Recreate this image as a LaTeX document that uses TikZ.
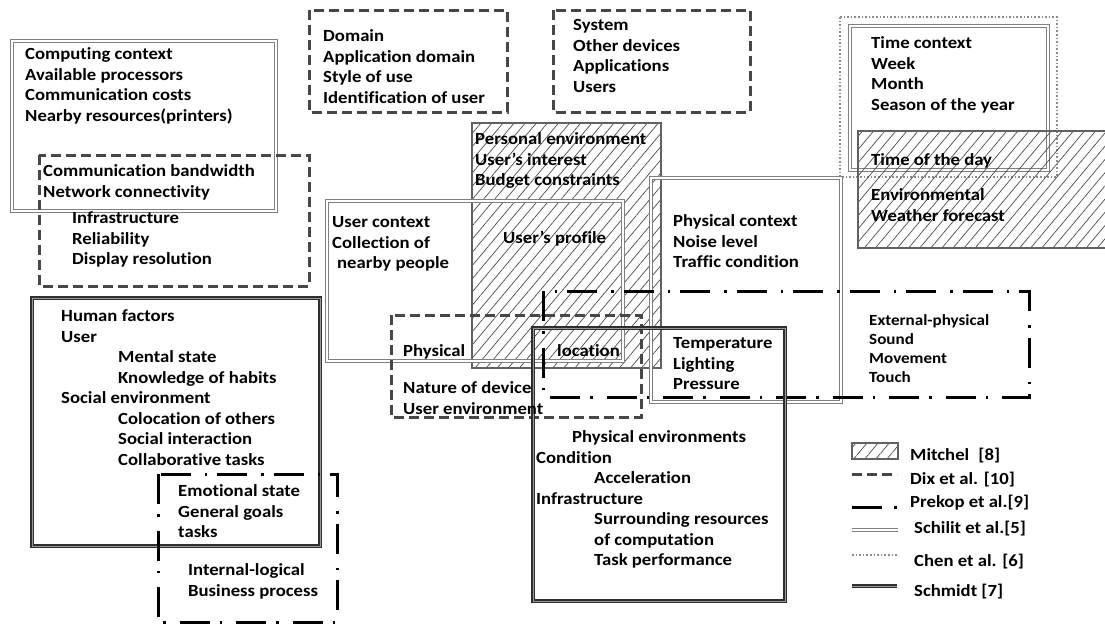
\documentclass[tikz,border=0pt]{standalone}
\usepackage{fontspec}
\setmainfont{Carlito}[FakeStretch=1.1,Ligatures=NoCommon]
\usetikzlibrary{patterns.meta}
\begin{document}
\begin{tikzpicture}[x=1pt,y=-1pt,
  schilit/.style={draw=black!50, line width=1pt, double=white, double distance=2pt},
  dix/.style={draw=black!72, line width=3pt, dash pattern=on 10pt off 5pt},
  prekop/.style={draw=black, line width=3pt, dash pattern=on 30pt off 10pt on 2.5pt off 14pt},
  chen/.style={draw=black!45, line width=2pt, dash pattern=on 1.6pt off 2pt},
  schmidt/.style={draw=black!82, line width=1.3pt, double=black!40, double distance=0.8pt},
  mitchel/.style={draw=black!62, line width=1.8pt, pattern={Lines[angle=50,distance=8.5pt,line width=0.7pt]}, pattern color=black!70},
  txt/.style={anchor=north west, inner sep=0pt, yshift=-3pt, align=left, font=\fontsize{17}{20.5}\selectfont\bfseries, execute at begin node=\strut},
  txts/.style={txt, font=\fontsize{15.5}{19}\selectfont\bfseries}]
\fill[white] (0,0) rectangle (1105,630);
\useasboundingbox (0,0) rectangle (1105,630);
\clip (0,0) rectangle (1105,630);

% boxes
\draw[schilit] (12,41) rectangle (276,211);
\draw[dix] (39,155) rectangle (309,286);
\draw[dix] (309,10) rectangle (507,112);
\draw[dix] (553,10) rectangle (750,112);
\draw[chen] (840,17) rectangle (1057,177);
\draw[schilit] (849.5,26) rectangle (1047.5,169.5);
\draw[mitchel] (858,131) rectangle (1115,248);
\draw[mitchel] (472,123) rectangle (661,368);
\draw[schilit] (327,201) rectangle (623,361);
\draw[schilit] (651,178) rectangle (841,402);
\draw[prekop] (543,291) rectangle (1029,397);
\draw[dix] (391,315) rectangle (641,417);
\draw[schmidt] (533,328) rectangle (785,601);
\draw[schmidt] (32,298) rectangle (320,546);
\draw[prekop] (158,474) rectangle (337,622);

% texts
\node[txt] (comp) at (25,44.5) {Computing context\\Available processors\\Communication costs\\Nearby resources(printers)};
\node[txt] (infra1) at (43,161.5) {Communication bandwidth\\Network connectivity};
\node[txt] (infra2) at (72,208.5) {Infrastructure\\Reliability\\Display resolution};
\node[txt] (dom) at (323,26.5) {Domain\\Application domain\\Style of use\\Identification of user};
\node[txt] (sys) at (573,16.5) {System\\Other devices\\Applications\\Users};
\node[txt] (time) at (871,33.5) {Time context\\Week\\Month\\Season of the year};
\node[txt] (tday) at (871,147.5) {Time of the day};
\node[txt] (env) at (871,185.5) {Environmental\\Weather forecast};
\node[txt] (pers) at (475,129.5) {Personal environment\\User’s interest\\Budget constraints};
\node[txt] (prof) at (503,225.5) {User’s profile};
\node[txt] (loc) at (557,338.5) {location};
\node[txt] (uctx) at (332,213.5) {User context\\Collection of\\\hspace*{5pt}nearby people};
\node[txt] (pctx) at (673,211.5) {Physical context\\Noise level\\Traffic condition};
\node[txts] (ext) at (869,311) {External-physical\\Sound\\Movement\\Touch};
\node[txt] (phys) at (403,338.5) {Physical};
\node[txt] (nat) at (403,378.5) {Nature of device\\User environment};
\node[txt] (temp) at (673,334.5) {Temperature\\Lighting\\Pressure};
\node[txt] (penv) at (536,427.5) {\hspace*{36pt}Physical environments\\Condition\\\hspace*{58pt}Acceleration\\Infrastructure\\\hspace*{58pt}Surrounding resources\\\hspace*{58pt}of computation\\\hspace*{58pt}Task performance};
\node[txt] (human) at (61,306.5) {Human factors\\User\\\hspace*{57pt}Mental state\\\hspace*{57pt}Knowledge of habits\\Social environment\\\hspace*{57pt}Colocation of others\\\hspace*{57pt}Social interaction\\\hspace*{57pt}Collaborative tasks};
\node[txt] (emo) at (178,481.5) {Emotional state\\General goals\\tasks};
\node[txt] (intl) at (188,560.5) {Internal-logical\\Business process};

% legend
\draw[mitchel] (852,443) rectangle (898,459);
\coordinate (l2a) at (852,474); \coordinate (l2b) at (897,474);
\draw[dix] (l2a) -- (l2b);
\coordinate (l3a) at (852,507); \coordinate (l3b) at (898,507);
\draw[prekop, dash pattern=on 30pt off 12pt on 2.5pt off 10pt] (l3a) -- (l3b);
\coordinate (l4a) at (852,530); \coordinate (l4b) at (898,530);
\draw[schilit] (l4a) -- (l4b);
\coordinate (l5a) at (852,555); \coordinate (l5b) at (898,555);
\draw[chen] (l5a) -- (l5b);
\coordinate (l6a) at (852,586); \coordinate (l6b) at (897,586);
\draw[schmidt] (l6a) -- (l6b);
\node[txt] (lg1) at (910,442.5) {Mitchel\hspace*{5pt} [8]};
\node[txt] (lg2) at (910,466.5) {Dix et al. [10]};
\node[txt] (lg3) at (910,489.5) {Prekop et al.[9]};
\node[txt] (lg4) at (914,515.5) {Schilit et al.[5]};
\node[txt] (lg5) at (914,548.5) {Chen et al. [6]};
\node[txt] (lg6) at (914,578.5) {Schmidt [7]};
\end{tikzpicture}
\end{document}
